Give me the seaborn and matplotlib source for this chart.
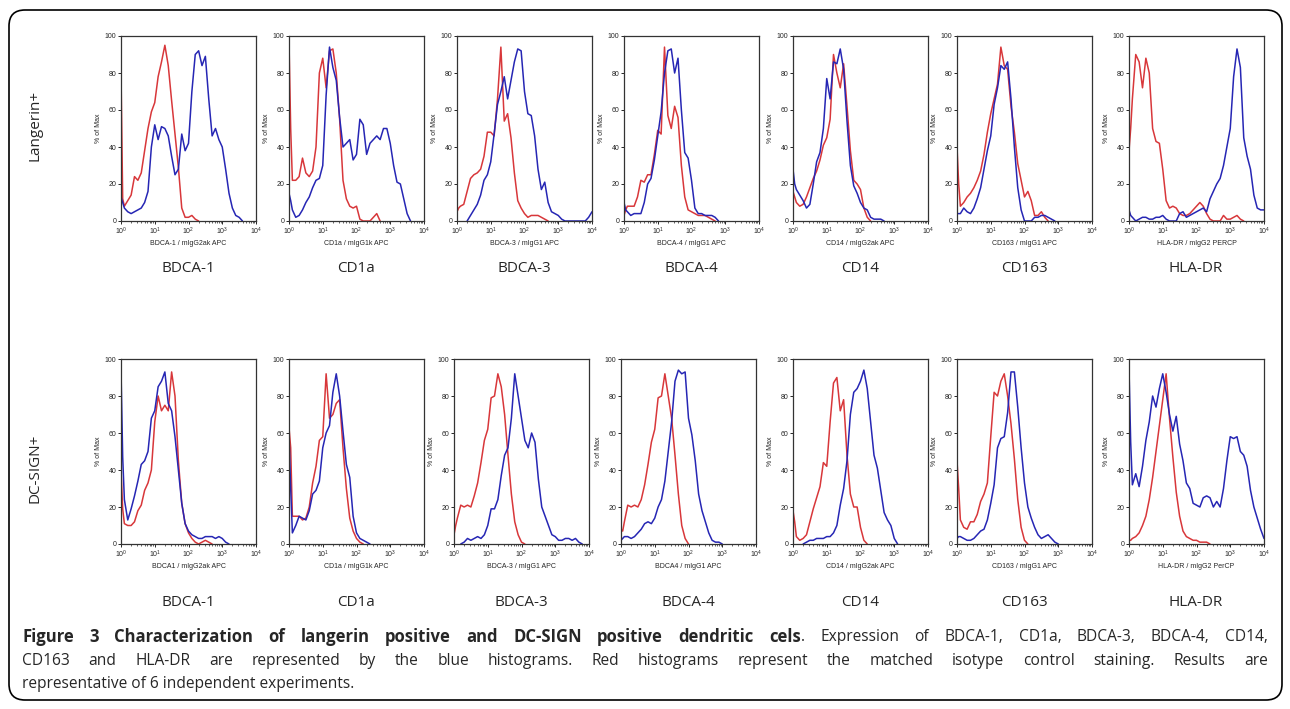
import numpy as np
import pandas as pd
import seaborn as sns
import matplotlib
matplotlib.use("Agg")
import matplotlib.pyplot as plt
from matplotlib.patches import FancyBboxPatch
from matplotlib.transforms import IdentityTransform

nan = np.nan

# fluorescence channel positions (log10 decades), shared by every histogram
log_pos = [0.0, 0.05, 0.1, 0.2, 0.3, 0.4, 0.5, 0.6, 0.7, 0.8, 0.9,
           1.0, 1.1, 1.2, 1.3, 1.4, 1.5, 1.6, 1.7, 1.8, 1.9,
           2.0, 2.1, 2.2, 2.3, 2.4, 2.5, 2.6, 2.7, 2.8, 2.9,
           3.0, 3.1, 3.2, 3.3, 3.4, 3.5, 3.6, 3.7, 3.8, 3.9, 4.0]

markers = ["BDCA-1", "CD1a", "BDCA-3", "BDCA-4", "CD14", "CD163", "HLA-DR"]
top_xlabels = ["BDCA-1 / mIgG2ak APC", "CD1a / mIgG1k APC", "BDCA-3 / mIgG1 APC",
               "BDCA-4 / mIgG1 APC", "CD14 / mIgG2ak APC", "CD163 / mIgG1 APC",
               "HLA-DR / mIgG2 PERCP"]
bot_xlabels = ["BDCA1 / mIgG2ak APC", "CD1a / mIgG1k APC", "BDCA-3 / mIgG1 APC",
               "BDCA4 / mIgG1 APC", "CD14 / mIgG2ak APC", "CD163 / mIgG1 APC",
               "HLA-DR / mIgG2 PerCP"]

# Langerin+ row: isotype (red) and stained (blue), % of max
lang_bdca1_iso = [80, 12, 8, 11, 14, 24, 22, 26, 38, 50, 59, 64, 78, 86, 95, 84, 65, 47, 29, 7, 2,
                  2, 3, 1, 0, nan, nan, nan, nan, nan, nan, nan, nan, nan, nan, nan, nan, nan, nan, nan, nan, nan]
lang_bdca1_stn = [13, 10, 7, 5, 4, 5, 6, 7, 10, 16, 40, 52, 44, 51, 50, 46, 35, 25, 28, 47, 38,
                  42, 70, 90, 92, 84, 89, 66, 46, 50, 44, 40, 28, 15, 7, 3, 2, 0, nan, nan, nan, nan]
lang_cd1a_iso = [97, 50, 22, 22, 24, 34, 26, 24, 27, 40, 80, 88, 72, 92, 93, 80, 55, 22, 12, 8, 7,
                 8, 1, 0, 0, 0, 2, 4, 0, nan, nan, nan, nan, nan, nan, nan, nan, nan, nan, nan, nan, nan]
lang_cd1a_stn = [15, 11, 6, 2, 3, 6, 10, 13, 18, 22, 23, 30, 68, 94, 83, 76, 56, 40, 42, 44, 33,
                 36, 55, 52, 36, 42, 44, 46, 44, 50, 50, 42, 30, 21, 20, 12, 4, 0, nan, nan, nan, nan]
lang_bdca3_iso = [5, 7, 8, 9, 16, 23, 25, 26, 28, 35, 48, 48, 46, 66, 94, 54, 58, 45, 26, 11, 7,
                  4, 2, 3, 3, 3, 2, 1, 0, nan, nan, nan, nan, nan, nan, nan, nan, nan, nan, nan, nan, nan]
lang_bdca3_stn = [nan, nan, nan, nan, 0, 3, 6, 9, 14, 22, 25, 32, 47, 63, 70, 78, 66, 76, 86, 93, 92,
                  70, 58, 57, 46, 28, 17, 21, 10, 5, 4, 3, 1, 0, 0, 0, 0, 0, 0, 0, 2, 5]
lang_bdca4_iso = [3, 6, 8, 8, 8, 13, 22, 21, 25, 25, 36, 49, 47, 94, 57, 50, 62, 56, 30, 13, 6,
                  5, 4, 3, 3, 3, 2, 1, 0, nan, nan, nan, nan, nan, nan, nan, nan, nan, nan, nan, nan, nan]
lang_bdca4_stn = [10, 6, 5, 3, 4, 4, 4, 10, 20, 23, 33, 46, 59, 80, 92, 93, 80, 88, 60, 37, 34,
                  22, 7, 4, 4, 3, 3, 3, 2, 0, nan, nan, nan, nan, nan, nan, nan, nan, nan, nan, nan, nan]
lang_cd14_iso = [16, 13, 10, 8, 9, 13, 18, 23, 27, 33, 41, 45, 55, 90, 80, 72, 85, 62, 38, 22, 20,
                 17, 7, 2, 0, nan, nan, nan, nan, nan, nan, nan, nan, nan, nan, nan, nan, nan, nan, nan, nan, nan]
lang_cd14_stn = [28, 20, 17, 14, 11, 7, 9, 20, 32, 37, 50, 77, 66, 86, 85, 93, 82, 54, 30, 19, 15,
                 10, 7, 6, 2, 1, 1, 1, 0, nan, nan, nan, nan, nan, nan, nan, nan, nan, nan, nan, nan, nan]
lang_cd163_iso = [40, 20, 8, 10, 13, 15, 18, 22, 27, 36, 48, 58, 66, 74, 94, 84, 82, 62, 48, 31, 22,
                  13, 16, 11, 3, 3, 5, 2, 0, nan, nan, nan, nan, nan, nan, nan, nan, nan, nan, nan, nan, nan]
lang_cd163_stn = [4, 4, 4, 7, 5, 4, 7, 12, 18, 28, 38, 46, 63, 72, 84, 82, 86, 66, 40, 18, 6,
                  0, 0, 0, 2, 2, 3, 3, 2, 1, 0, nan, nan, nan, nan, nan, nan, nan, nan, nan, nan, nan]
lang_hladr_iso = [38, 50, 66, 90, 86, 72, 88, 80, 50, 43, 42, 28, 11, 7, 8, 7, 4, 3, 3, 4, 6,
                  8, 10, 8, 4, 1, 0, 0, 0, 3, 1, 1, 2, 3, 1, 0, nan, nan, nan, nan, nan, nan]
lang_hladr_stn = [6, 3, 2, 0, 1, 2, 2, 1, 1, 2, 2, 3, 1, 0, 0, 0, 4, 5, 2, 3, 4,
                  5, 6, 7, 5, 12, 16, 20, 23, 30, 40, 50, 78, 93, 83, 45, 35, 28, 14, 7, 6, 6]

# DC-SIGN+ row
dcs_bdca1_iso = [40, 19, 11, 10, 10, 12, 18, 21, 29, 33, 40, 66, 80, 72, 75, 72, 93, 80, 45, 22, 11,
                 6, 3, 1, 0, 1, 2, 1, 0, nan, nan, nan, nan, nan, nan, nan, nan, nan, nan, nan, nan, nan]
dcs_bdca1_stn = [94, 47, 24, 13, 19, 26, 34, 43, 45, 50, 68, 72, 85, 88, 93, 76, 72, 58, 40, 22, 11,
                 7, 5, 4, 3, 3, 4, 4, 4, 3, 4, 3, 1, 0, nan, nan, nan, nan, nan, nan, nan, nan]
dcs_cd1a_iso = [63, 52, 15, 15, 15, 13, 14, 20, 33, 42, 56, 58, 92, 68, 70, 76, 78, 52, 30, 14, 7,
                3, 1, 0, nan, nan, nan, nan, nan, nan, nan, nan, nan, nan, nan, nan, nan, nan, nan, nan, nan, nan]
dcs_cd1a_stn = [58, 30, 6, 10, 15, 14, 13, 18, 27, 29, 34, 52, 60, 64, 82, 92, 80, 61, 43, 36, 15,
                6, 3, 2, 1, 0, nan, nan, nan, nan, nan, nan, nan, nan, nan, nan, nan, nan, nan, nan, nan, nan]
dcs_bdca3_iso = [5, 10, 14, 21, 20, 21, 20, 26, 33, 44, 56, 62, 79, 80, 92, 85, 70, 48, 27, 12, 5,
                 1, 0, nan, nan, nan, nan, nan, nan, nan, nan, nan, nan, nan, nan, nan, nan, nan, nan, nan, nan, nan]
dcs_bdca3_stn = [nan, nan, nan, 0, 1, 3, 2, 3, 4, 3, 5, 10, 19, 19, 24, 37, 48, 52, 68, 92, 80,
                 68, 56, 52, 60, 55, 35, 20, 15, 10, 5, 4, 2, 2, 3, 3, 2, 3, 1, 0, nan, nan]
dcs_bdca4_iso = [8, 7, 12, 21, 20, 21, 20, 24, 32, 43, 55, 62, 79, 80, 92, 80, 68, 48, 27, 10, 3,
                 0, nan, nan, nan, nan, nan, nan, nan, nan, nan, nan, nan, nan, nan, nan, nan, nan, nan, nan, nan, nan]
dcs_bdca4_stn = [2, 3, 4, 4, 3, 4, 6, 8, 11, 12, 11, 14, 20, 24, 34, 50, 66, 88, 94, 92, 93,
                 68, 59, 45, 27, 18, 12, 6, 2, 1, 1, 0, nan, nan, nan, nan, nan, nan, nan, nan, nan, nan]
dcs_cd14_iso = [18, 12, 4, 2, 3, 5, 12, 19, 25, 31, 44, 42, 66, 87, 90, 72, 78, 48, 27, 20, 20,
                9, 2, 0, nan, nan, nan, nan, nan, nan, nan, nan, nan, nan, nan, nan, nan, nan, nan, nan, nan, nan]
dcs_cd14_stn = [nan, nan, nan, nan, 0, 1, 2, 2, 3, 3, 3, 4, 4, 6, 10, 21, 30, 45, 70, 82, 84,
                88, 94, 84, 66, 48, 41, 29, 17, 13, 10, 3, 0, nan, nan, nan, nan, nan, nan, nan, nan, nan]
dcs_cd163_iso = [45, 30, 13, 9, 8, 12, 12, 16, 23, 27, 33, 58, 82, 80, 88, 92, 80, 65, 46, 24, 9,
                 2, 0, nan, nan, nan, nan, nan, nan, nan, nan, nan, nan, nan, nan, nan, nan, nan, nan, nan, nan, nan]
dcs_cd163_stn = [3, 4, 4, 3, 2, 2, 3, 5, 7, 8, 13, 22, 32, 52, 57, 58, 71, 93, 93, 74, 52,
                 33, 20, 14, 9, 5, 3, 4, 5, 3, 1, 0, nan, nan, nan, nan, nan, nan, nan, nan, nan, nan]
dcs_hladr_iso = [2, 2, 3, 4, 6, 10, 15, 24, 36, 50, 64, 78, 92, 68, 47, 28, 15, 7, 4, 3, 2,
                 2, 1, 1, 1, 0, nan, nan, nan, nan, nan, nan, nan, nan, nan, nan, nan, nan, nan, nan, nan, nan]
dcs_hladr_stn = [95, 55, 32, 38, 31, 42, 56, 66, 80, 74, 84, 92, 82, 70, 61, 69, 54, 45, 33, 30, 22,
                 21, 20, 25, 26, 25, 20, 23, 20, 30, 45, 58, 57, 58, 50, 48, 42, 29, 20, 14, 8, 3]

rows = [
    ("Langerin+", top_xlabels, [36, 221], [121, 289, 457, 624, 793, 957, 1129], 125,
     [(lang_bdca1_iso, lang_bdca1_stn), (lang_cd1a_iso, lang_cd1a_stn),
      (lang_bdca3_iso, lang_bdca3_stn), (lang_bdca4_iso, lang_bdca4_stn),
      (lang_cd14_iso, lang_cd14_stn), (lang_cd163_iso, lang_cd163_stn),
      (lang_hladr_iso, lang_hladr_stn)]),
    ("DC-SIGN+", bot_xlabels, [359, 544], [121, 289, 454, 621, 793, 957, 1129], 468,
     [(dcs_bdca1_iso, dcs_bdca1_stn), (dcs_cd1a_iso, dcs_cd1a_stn),
      (dcs_bdca3_iso, dcs_bdca3_stn), (dcs_bdca4_iso, dcs_bdca4_stn),
      (dcs_cd14_iso, dcs_cd14_stn), (dcs_cd163_iso, dcs_cd163_stn),
      (dcs_hladr_iso, dcs_hladr_stn)]),
]

RED = "#d8373a"
BLUE = "#2626b4"
W, H = 1290, 709

sns.set_style("white")
plt.rcParams["font.family"] = ["Liberation Sans", "DejaVu Sans"]
plt.rcParams["mathtext.fontset"] = "custom"
plt.rcParams["mathtext.rm"] = "Liberation Sans"

fig = plt.figure(figsize=(W / 100, H / 100), dpi=100)

for row_label, xlabels, (ytop, ybot), lefts, label_y, curves in rows:
    for i, (iso, stn) in enumerate(curves):
        ax = fig.add_axes([lefts[i] / W, 1 - ybot / H, 135 / W, (ybot - ytop) / H])
        df = pd.DataFrame({"fluor": 10 ** np.array(log_pos), "iso": iso, "stain": stn})
        d_iso = df.dropna(subset=["iso"])
        d_stn = df.dropna(subset=["stain"])
        sns.lineplot(data=d_iso, x="fluor", y="iso", ax=ax, color=RED, lw=1.1,
                     estimator=None, sort=False)
        sns.lineplot(data=d_stn, x="fluor", y="stain", ax=ax, color=BLUE, lw=1.1,
                     estimator=None, sort=False)
        ax.set_xscale("log")
        ax.set_xlim(1, 1e4)
        ax.set_ylim(0, 100)
        ax.set_yticks([0, 20, 40, 60, 80, 100])
        ax.set_yticklabels(["0", "20", "40", "60", "80", "100"])
        ax.set_xticks([1, 10, 100, 1000, 10000])
        ax.set_xticklabels([r"$10^0$", r"$10^1$", r"$10^2$", r"$10^3$", r"$10^4$"])
        ax.tick_params(axis="both", which="major", direction="out", length=2.5, width=0.7,
                       pad=1, labelsize=5, bottom=True, left=True)
        ax.tick_params(axis="x", which="minor", direction="out", length=1.5, width=0.5, bottom=True)
        ax.set_xlabel(xlabels[i], fontsize=5, labelpad=2)
        ax.set_ylabel("% of Max", fontsize=5, labelpad=2)
        for sp in ax.spines.values():
            sp.set_color("#333333")
            sp.set_linewidth(0.9)
        # marker name beneath the panel
        fig.text((lefts[i] + 67) / W, 1 - (ybot + 47 + (12 if row_label == "DC-SIGN+" else 0)) / H,
                 markers[i], ha="center", va="center", fontsize=11, family="Open Sans")
    fig.text(35 / W, 1 - label_y / H, row_label, rotation=90,
             ha="center", va="center", fontsize=11, family="Open Sans")

# caption, first two lines justified to the frame width
fig.canvas.draw()
rend = fig.canvas.get_renderer()
CAP_X0, CAP_X1 = 22, 1268
BOLD_FS = 12
REG_FS = 11.2


def seg_width(text, weight, size):
    t = fig.text(0, 0, text, fontsize=size, fontweight=weight, family="Open Sans")
    w = t.get_window_extent(rend).width
    t.remove()
    return w


def draw_line(words, y):
    # words: list of lists of (text, weight, size) segments, spread to full width
    widths = [sum(seg_width(s, wt, sz) for s, wt, sz in wd) for wd in words]
    gap = (CAP_X1 - CAP_X0 - sum(widths)) / (len(words) - 1)
    x = CAP_X0
    for wd, w in zip(words, widths):
        xx = x
        for s, wt, sz in wd:
            fig.text(xx / W, 1 - y / H, s, fontsize=sz, fontweight=wt,
                     family="Open Sans", va="center")
            xx += seg_width(s, wt, sz)
        x += w + gap


bold_part = "Figure 3 Characterization of langerin positive and DC-SIGN positive dendritic".split()
line1 = [[(wd, "bold", BOLD_FS)] for wd in bold_part]
line1.append([("cels", "bold", BOLD_FS), (".", "normal", REG_FS)])
line1 += [[(wd, "normal", REG_FS)] for wd in "Expression of BDCA-1, CD1a, BDCA-3, BDCA-4, CD14,".split()]
line2 = [[(wd, "normal", REG_FS)] for wd in
         ("CD163 and HLA-DR are represented by the blue histograms. Red histograms represent "
          "the matched isotype control staining. Results are").split()]
draw_line(line1, 637)
draw_line(line2, 661)
fig.text(CAP_X0 / W, 1 - 684 / H, "representative of 6 independent experiments.",
         fontsize=REG_FS, family="Open Sans", va="center")

# rounded frame around the whole figure
frame = FancyBboxPatch((9, 9), 1273, 690, boxstyle="round,pad=0,rounding_size=16",
                       transform=IdentityTransform(), fill=False, ec="black", lw=1.2)
fig.patches.append(frame)

fig.savefig("out.png", dpi=100)
